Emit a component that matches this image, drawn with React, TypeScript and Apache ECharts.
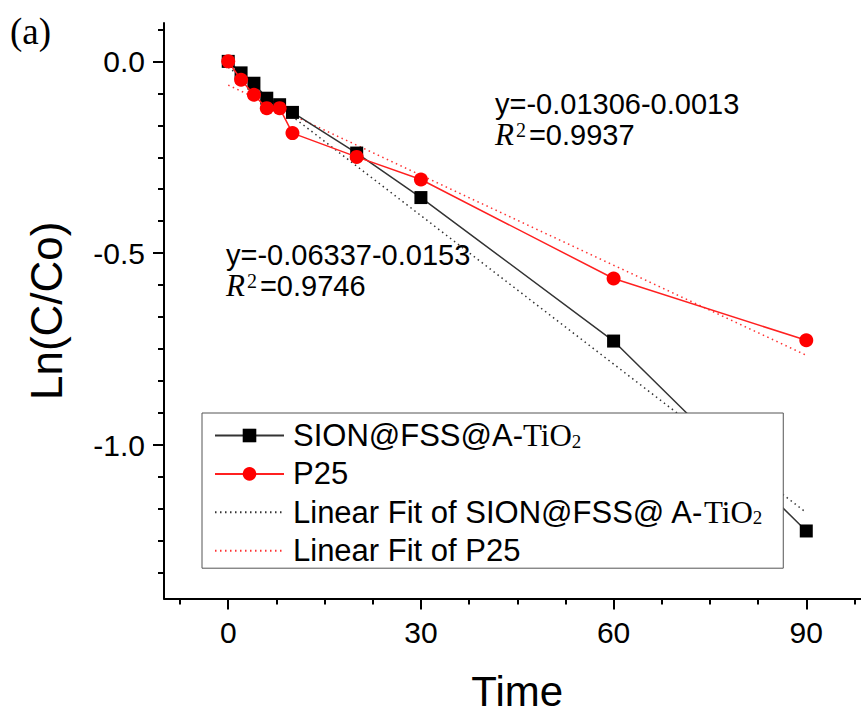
import { useEffect, useRef } from "react";
import * as echarts from "echarts";

const SANS = '"Liberation Sans", Arial, sans-serif';
const SERIF = '"Liberation Serif", "Times New Roman", serif';

const times = [0, 2, 4, 6, 8, 10, 20, 30, 60, 90];
const sionValues = [0, -0.03, -0.057, -0.096, -0.113, -0.133, -0.239, -0.355, -0.729, -1.224];
const p25Values = [0, -0.048, -0.087, -0.122, -0.122, -0.187, -0.249, -0.308, -0.566, -0.727];
const fitTimes = [0, 90];
const sionFit = [-0.015, -1.176];
const p25Fit = [-0.062, -0.766];

const xMajorTicks = [0, 30, 60, 90];
const xMinorTicks = [-7.5, 7.5, 15, 22.5, 37.5, 45, 52.5, 67.5, 75, 82.5, 97.5];
const yMajorTicks = [0, -0.5, -1.0];
const yMinorTicks = [0.0833, -0.0833, -0.1667, -0.25, -0.3333, -0.4167, -0.5833, -0.6667, -0.75, -0.8333, -0.9167, -1.0833, -1.1667, -1.25, -1.3333];

const seriesNames = [
  "SION@FSS@A-TiO2",
  "P25",
  "Linear Fit of SION@FSS@ A-TiO2",
  "Linear Fit of P25",
];

const pairs = (xs: number[], ys: number[]) => xs.map((x, i) => [x, ys[i]]);

const annotationRich = {
  n: { fontSize: 29, fontFamily: SANS, lineHeight: 29.5, fill: "#000" },
  i: { fontSize: 31, fontFamily: SERIF, fontStyle: "italic", lineHeight: 29.5, fill: "#000" },
  s: { fontSize: 20, fontFamily: SERIF, lineHeight: 12, verticalAlign: "top", fill: "#000", padding: [0, 3, 0, 2] },
};

export default function App() {
  const ref = useRef<HTMLDivElement>(null);
  useEffect(() => {
    if (!ref.current) return;
    const chart = echarts.init(ref.current, undefined, { renderer: "svg" });
    const axisCommon = {
      type: "value",
      splitLine: { show: false },
    };
    const option: any = {
      animation: false,
      backgroundColor: "#fff",
      textStyle: { fontFamily: SANS },
      grid: { left: 164, top: 23, right: -9.5, bottom: 118.5, outerBoundsMode: "none", containLabel: false },
      xAxis: [
        {
          ...axisCommon,
          min: -10,
          max: 100,
          position: "bottom",
          name: "Time",
          nameLocation: "middle",
          nameGap: 74,
          nameTextStyle: { fontSize: 42, lineHeight: 38, color: "#000", fontFamily: SANS },
          axisLine: { onZero: false, lineStyle: { color: "#000", width: 2 } },
          axisTick: { customValues: xMajorTicks, length: 11, lineStyle: { color: "#000", width: 2 } },
          axisLabel: { customValues: xMajorTicks, fontSize: 30, margin: 19, color: "#000", fontFamily: SANS },
        },
        {
          ...axisCommon,
          min: -10,
          max: 100,
          position: "bottom",
          axisLine: { show: false, onZero: false },
          axisTick: { customValues: xMinorTicks, length: 6, lineStyle: { color: "#000", width: 2 } },
          axisLabel: { show: false },
        },
      ],
      yAxis: [
        {
          ...axisCommon,
          min: -1.4,
          max: 0.1,
          position: "left",
          name: "Ln(C/Co)",
          nameLocation: "middle",
          nameGap: 96,
          nameTextStyle: { fontSize: 44, color: "#000", fontFamily: SANS },
          axisLine: { onZero: false, lineStyle: { color: "#000", width: 2 } },
          axisTick: { customValues: yMajorTicks, length: 11, lineStyle: { color: "#000", width: 2 } },
          axisLabel: {
            customValues: yMajorTicks,
            fontSize: 30,
            margin: 19,
            color: "#000",
            fontFamily: SANS,
            formatter: (v: number) => v.toFixed(1),
          },
        },
        {
          ...axisCommon,
          min: -1.4,
          max: 0.1,
          position: "left",
          axisLine: { show: false, onZero: false },
          axisTick: { customValues: yMinorTicks, length: 6, lineStyle: { color: "#000", width: 2 } },
          axisLabel: { show: false },
        },
      ],
      legend: {
        orient: "vertical",
        left: 202,
        top: 413,
        data: [
          { name: seriesNames[0] },
          { name: seriesNames[1] },
          { name: seriesNames[2], itemStyle: { opacity: 0 } },
          { name: seriesNames[3], itemStyle: { opacity: 0 } },
        ],
        backgroundColor: "#fff",
        borderColor: "#555",
        borderWidth: 1,
        padding: [7, 21, 2, 12],
        itemGap: 7.4,
        itemWidth: 69,
        itemHeight: 17,
        selectedMode: false,
        formatter: (name: string) => {
          if (name.endsWith("TiO2")) {
            return `{a|${name.slice(0, -4)}}{b|TiO}{c|2}`;
          }
          return `{a|${name}}`;
        },
        textStyle: {
          padding: [0, 0, 0, 4],
          rich: {
            a: { fontSize: 31, fontFamily: SANS, color: "#000", lineHeight: 30 },
            b: { fontSize: 31, fontFamily: SERIF, color: "#000", lineHeight: 30 },
            c: { fontSize: 19, fontFamily: SERIF, color: "#000", lineHeight: 14, verticalAlign: "bottom" },
          },
        },
      },
      series: [
        {
          name: seriesNames[2],
          type: "line",
          data: pairs(fitTimes, sionFit),
          symbol: "none",
          lineStyle: { color: "#333", width: 1.5, type: [1.5, 3.5] },
          itemStyle: { color: "#333" },
          z: 2,
        },
        {
          name: seriesNames[3],
          type: "line",
          data: pairs(fitTimes, p25Fit),
          symbol: "none",
          lineStyle: { color: "#ff3030", width: 1.5, type: [1.5, 3.5] },
          itemStyle: { color: "#ff3030" },
          z: 2,
        },
        {
          name: seriesNames[0],
          type: "line",
          data: pairs(times, sionValues),
          symbol: "rect",
          symbolSize: 13,
          lineStyle: { color: "#333", width: 1.5 },
          itemStyle: { color: "#000" },
          z: 3,
        },
        {
          name: seriesNames[1],
          type: "line",
          data: pairs(times, p25Values),
          symbol: "circle",
          symbolSize: 14,
          lineStyle: { color: "#ff2020", width: 1.5 },
          itemStyle: { color: "#ff0000" },
          z: 4,
        },
      ],
      graphic: [
        {
          type: "text",
          left: 10,
          top: 13,
          style: { text: "(a)", font: `37px ${SERIF}`, fill: "#000" },
        },
        {
          type: "text",
          left: 495,
          top: 89,
          style: { text: "y=-0.01306-0.0013", font: `29px ${SANS}`, fill: "#000" },
        },
        {
          type: "text",
          left: 495,
          top: 119,
          style: { text: "{i|R}{s|2}{n|=0.9937}", fill: "#000", rich: annotationRich },
        },
        {
          type: "text",
          left: 226,
          top: 240,
          style: { text: "y=-0.06337-0.0153", font: `29px ${SANS}`, fill: "#000" },
        },
        {
          type: "text",
          left: 226,
          top: 270,
          style: { text: "{i|R}{s|2}{n|=0.9746}", fill: "#000", rich: annotationRich },
        },
      ],
    };
    chart.setOption(option);
    return () => chart.dispose();
  }, []);
  return (
    <div
      ref={ref}
      style={{ position: "absolute", left: 0, top: 0, width: 861, height: 717 }}
    />
  );
}
